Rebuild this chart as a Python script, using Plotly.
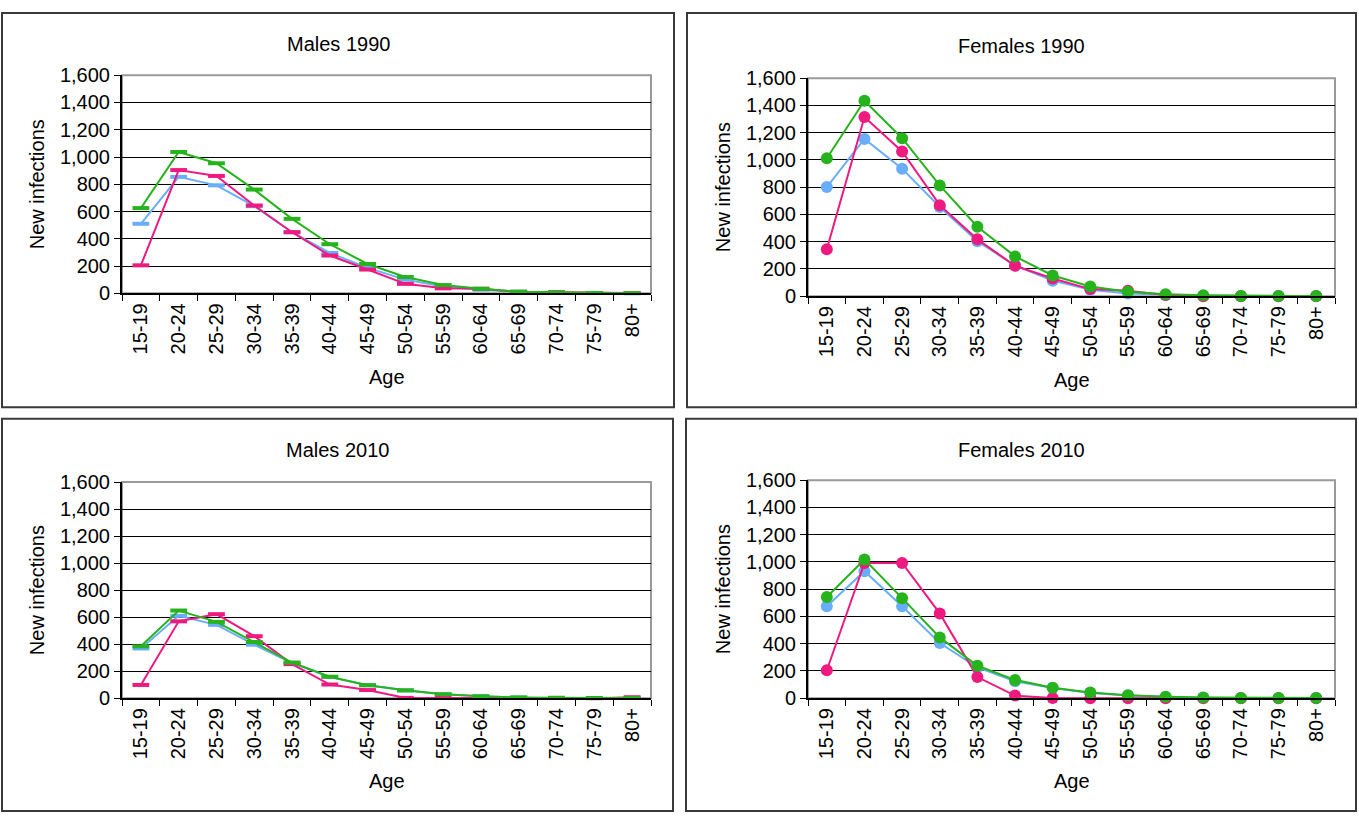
import plotly.graph_objects as go

# Age groups on the category axis
ages = ["15-19", "20-24", "25-29", "30-34", "35-39", "40-44", "45-49",
        "50-54", "55-59", "60-64", "65-69", "70-74", "75-79", "80+"]

# New infections by age group, three series per panel
m1990_blue = [510, 854, 792, 639, 448, 296, 186, 100, 50, 26, 10, 5, 2, 1]
m1990_pink = [205, 904, 861, 644, 448, 277, 174, 69, 36, 33, 10, 8, 2, 2]
m1990_green = [625, 1037, 954, 761, 546, 360, 215, 119, 60, 33, 12, 7, 2, 1]

f1990_blue = [801, 1154, 936, 654, 403, 225, 114, 47, 19, 9, 3, 1, 1, 1]
f1990_pink = [344, 1315, 1062, 668, 417, 223, 130, 52, 40, 9, 0, 0, 0, 0]
f1990_green = [1012, 1434, 1159, 813, 510, 292, 152, 71, 33, 14, 6, 2, 2, 2]

m2010_blue = [368, 610, 543, 396, 259, 156, 96, 58, 29, 14, 5, 2, 1, 2]
m2010_pink = [98, 569, 622, 459, 252, 101, 60, 2, 2, 2, 2, 2, 0, 7]
m2010_green = [384, 649, 565, 416, 264, 159, 96, 58, 29, 14, 5, 2, 1, 1]

f2010_blue = [675, 932, 675, 405, 227, 124, 74, 38, 19, 9, 4, 1, 1, 1]
f2010_pink = [205, 992, 992, 622, 155, 19, 2, 0, 0, 0, 0, 0, 0, 0]
f2010_green = [742, 1018, 734, 446, 238, 134, 76, 41, 21, 10, 5, 2, 2, 1]

panel_titles = ["Males 1990", "Females 1990", "Males 2010", "Females 2010"]
y_title = "New infections"
x_title = "Age"

W, H = 1359, 825
BLUE, PINK, GREEN = "#69AEFA", "#EE1A80", "#26B31C"
FONT = "Liberation Sans, Arial, sans-serif"
FS = 20


def px_x(x):
    return x / W


def px_y(y):
    return 1 - y / H


# Panel geometry in pixels: outer frame and plot area
panels = [
    dict(frame=(2, 2, 674, 407), plot=(122, 66, 651, 290), title_y=34, age_y=376, yt_x=37,
         series=(m1990_blue, m1990_pink, m1990_green), symbol="line-ew"),
    dict(frame=(687, 2, 1356, 407), plot=(808, 69, 1335, 293), title_y=36, age_y=379, yt_x=723,
         series=(f1990_blue, f1990_pink, f1990_green), symbol="circle"),
    dict(frame=(2, 419, 673, 822), plot=(122, 484, 651, 706), title_y=451, age_y=791, yt_x=37,
         series=(m2010_blue, m2010_pink, m2010_green), symbol="line-ew"),
    dict(frame=(686, 419, 1356, 822), plot=(808, 482, 1335, 706), title_y=451, age_y=791, yt_x=723,
         series=(f2010_blue, f2010_pink, f2010_green), symbol="circle"),
]

fig = go.Figure()
shapes = []
annotations = []
layout_axes = {}

for i, p in enumerate(panels):
    n = i + 1
    xa = "x" if n == 1 else f"x{n}"
    ya = "y" if n == 1 else f"y{n}"
    x0, y0, x1, y1 = p["plot"]

    for vals, color in zip(p["series"], (BLUE, PINK, GREEN)):
        if p["symbol"] == "circle":
            marker = dict(symbol="circle", size=12, color=color)
        else:
            marker = dict(symbol="line-ew", size=12, color=color,
                          line=dict(color=color, width=4))
        fig.add_trace(go.Scatter(
            x=ages, y=vals, xaxis=xa, yaxis=ya, mode="lines+markers",
            line=dict(color=color, width=2), marker=marker,
            cliponaxis=False, showlegend=False, hoverinfo="skip"))

    layout_axes[f"xaxis{n}"] = dict(
        domain=[px_x(x0), px_x(x1)], anchor=ya, type="category",
        categoryorder="array", categoryarray=ages,
        range=[-0.5, len(ages) - 0.5],
        showline=True, linecolor="black", linewidth=2,
        ticks="outside", tickson="boundaries", ticklen=6, tickcolor="black",
        tickangle=-90, showgrid=False, zeroline=False,
        tickfont=dict(family=FONT, size=FS, color="black"))
    layout_axes[f"yaxis{n}"] = dict(
        domain=[px_y(y1), px_y(y0)], anchor=xa, range=[0, 1600], dtick=200,
        tickformat=",d", showline=True, linecolor="black", linewidth=2,
        ticks="outside", ticklen=6, tickcolor="black",
        showgrid=True, gridcolor="black", gridwidth=1, zeroline=False,
        tickfont=dict(family=FONT, size=FS, color="black"))

    # grey frame around the plot area (top and right edges stay grey)
    shapes.append(dict(type="rect", xref="paper", yref="paper", layer="between",
                       x0=px_x(x0), x1=px_x(x1), y0=px_y(y1), y1=px_y(y0),
                       line=dict(color="#9A9A9A", width=2)))

    # outer panel frame
    fx0, fy0, fx1, fy1 = p["frame"]
    shapes.append(dict(type="rect", xref="paper", yref="paper", layer="above",
                       x0=px_x(fx0), x1=px_x(fx1), y0=px_y(fy1), y1=px_y(fy0),
                       line=dict(color="#3A3A3A", width=2)))

    annotations.append(dict(text=panel_titles[i], xref="paper", yref="paper",
                            x=px_x((fx0 + fx1) / 2), y=px_y(p["title_y"]),
                            showarrow=False, xanchor="center", yanchor="middle",
                            font=dict(family=FONT, size=FS, color="black")))
    annotations.append(dict(text=x_title, xref="paper", yref="paper",
                            x=px_x((x0 + x1) / 2), y=px_y(p["age_y"]),
                            showarrow=False, xanchor="center", yanchor="middle",
                            font=dict(family=FONT, size=FS, color="black")))
    annotations.append(dict(text=y_title, xref="paper", yref="paper",
                            x=px_x(p["yt_x"]), y=px_y((y0 + y1) / 2),
                            textangle=-90, showarrow=False,
                            xanchor="center", yanchor="middle",
                            font=dict(family=FONT, size=FS, color="black")))

fig.update_layout(
    width=W, height=H, margin=dict(l=0, r=0, t=0, b=0),
    paper_bgcolor="white", plot_bgcolor="white",
    shapes=shapes, annotations=annotations, showlegend=False,
    **layout_axes)

fig.write_html("out.html")
